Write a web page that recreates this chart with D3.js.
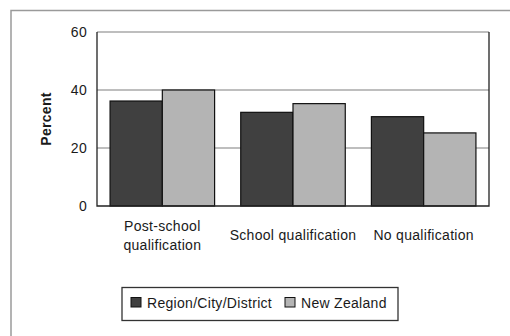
<!DOCTYPE html>
<html>
<head>
<meta charset="utf-8">
<script src="https://cdn.jsdelivr.net/npm/d3@7"></script>
<style>
  html, body { margin: 0; padding: 0; background: #fff; }
  svg { display: block; }
  text { font-family: "Liberation Sans", Arial, sans-serif; fill: #1a1a1a; }
</style>
</head>
<body>
<svg id="chart" width="510" height="336"></svg>
<script>
// Highest qualification, percent of population
const categories = [["Post-school", "qualification"], ["School qualification"], ["No qualification"]];
const seriesNames = ["Region/City/District", "New Zealand"];
const regionValues = [36.2, 32.3, 30.8];
const nzValues = [40.0, 35.3, 25.2];
const yTicks = [0, 20, 40, 60];
const seriesColors = ["#404040", "#b4b4b4"];

const svg = d3.select("#chart");
const plot = { left: 97, right: 489, top: 32, bottom: 206 };
const fontSize = 14;
const spacing = "0.3px";

// outer frame (top and left edges only)
svg.append("path")
  .attr("d", "M11,336V10.5H510")
  .attr("fill", "none")
  .attr("stroke", "#9a9a9a")
  .attr("stroke-width", 1.5);

const keys = categories.map(c => c.join(" "));
const x0 = d3.scaleBand().domain(keys).range([plot.left, plot.right])
  .paddingInner(0.2).paddingOuter(0.1);
const x1 = d3.scaleBand().domain(seriesNames).range([0, x0.bandwidth()]);
const y = d3.scaleLinear().domain([0, 60]).range([plot.bottom, plot.top]);

// horizontal gridlines
svg.append("g").selectAll("line")
  .data(yTicks.filter(d => d > 0))
  .join("line")
  .attr("x1", plot.left).attr("x2", plot.right)
  .attr("y1", d => y(d)).attr("y2", d => y(d))
  .attr("stroke", "#a8a8a8")
  .attr("stroke-width", 1.3);

// bars
const rows = keys.map((k, i) => ({ key: k, values: [regionValues[i], nzValues[i]] }));
const groups = svg.append("g").selectAll("g")
  .data(rows)
  .join("g")
  .attr("transform", d => `translate(${x0(d.key)},0)`);
groups.selectAll("rect")
  .data(d => d.values.map((v, j) => ({ name: seriesNames[j], v, j })))
  .join("rect")
  .attr("x", d => x1(d.name))
  .attr("width", x1.bandwidth())
  .attr("y", d => y(d.v))
  .attr("height", d => y(0) - y(d.v))
  .attr("fill", d => seriesColors[d.j])
  .attr("stroke", "#111")
  .attr("stroke-width", 1.2);

// axes lines: left, bottom, right
svg.append("path")
  .attr("d", `M${plot.left},${plot.top}V${plot.bottom}H${plot.right}V${plot.top}`)
  .attr("fill", "none")
  .attr("stroke", "#222")
  .attr("stroke-width", 1.3);

// y tick labels via axis generator
const yAxis = d3.axisLeft(y).tickValues(yTicks).tickSize(0).tickPadding(10);
const yg = svg.append("g").attr("transform", `translate(${plot.left},0)`).call(yAxis);
yg.select(".domain").remove();
yg.selectAll("text")
  .attr("font-size", fontSize)
  .attr("letter-spacing", spacing)
  .attr("fill", "#1a1a1a")
  .style("font-family", "'Liberation Sans', Arial, sans-serif");

// y axis title
svg.append("text")
  .attr("transform", `translate(51,119) rotate(-90)`)
  .attr("text-anchor", "middle")
  .attr("font-size", fontSize)
  .attr("font-weight", "bold")
  .attr("letter-spacing", spacing)
  .text("Percent");

// category labels
const centerY = 235;
const lineH = 19;
categories.forEach((lines, i) => {
  const cx = x0(keys[i]) + x0.bandwidth() / 2;
  const t = svg.append("text")
    .attr("text-anchor", "middle")
    .attr("font-size", fontSize)
    .attr("letter-spacing", spacing);
  lines.forEach((ln, k) => {
    t.append("tspan")
      .attr("x", cx)
      .attr("y", centerY + 5 + (k - (lines.length - 1) / 2) * lineH)
      .text(ln);
  });
});

// legend
const legend = svg.append("g");
legend.append("rect")
  .attr("x", 122).attr("y", 287.5)
  .attr("width", 276).attr("height", 33)
  .attr("fill", "#fff")
  .attr("stroke", "#333")
  .attr("stroke-width", 1.3);
const legendX = [131, 285];
seriesNames.forEach((name, j) => {
  legend.append("rect")
    .attr("x", legendX[j]).attr("y", 297.5)
    .attr("width", 10).attr("height", 9.5)
    .attr("fill", seriesColors[j])
    .attr("stroke", "#111")
    .attr("stroke-width", 1);
  legend.append("text")
    .attr("x", legendX[j] + 16).attr("y", 307.5)
    .attr("font-size", fontSize)
    .attr("letter-spacing", spacing)
    .text(name);
});
</script>
</body>
</html>
